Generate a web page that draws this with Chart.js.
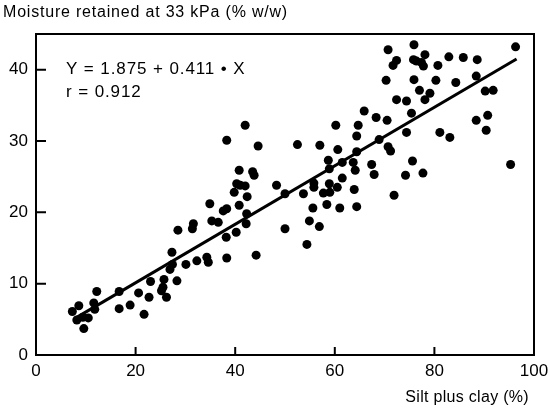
<!DOCTYPE html>
<html>
<head>
<meta charset="utf-8">
<script src="https://cdn.jsdelivr.net/npm/chart.js@4"></script>
<style>
  html, body { margin: 0; padding: 0; background: #fff; }
  #wrap { width: 550px; height: 414px; }
</style>
</head>
<body>
<div id="wrap"><canvas id="chart" width="550" height="414"></canvas></div>
<script>
// soil moisture vs silt+clay
const siltClay = [
  7.3, 8.6, 8.2, 9.4, 9.6, 10.5, 12.2, 11.8, 11.6, 16.7, 16.7, 18.9, 20.6, 21.7, 22.7, 23.0,
  25.7, 25.5, 25.2, 26.2, 27.3, 26.9, 27.4, 28.3, 28.5, 30.1, 31.4, 31.6, 32.3, 34.3, 34.6,
  34.9, 35.3, 36.6, 37.6, 38.3, 38.2, 38.3, 39.8, 40.3, 41.0, 42.0, 40.8, 42.4, 42.3, 42.2,
  40.2, 44.2, 48.3, 50.0, 38.3, 42.0, 44.6, 40.8, 43.5, 43.8, 52.5, 57.0, 53.7, 54.9, 54.4,
  79.1, 78.1, 72.4, 74.4, 65.9, 68.3, 70.5, 75.4, 60.2, 64.7, 64.4, 74.4, 60.6, 68.9, 70.7,
  71.2, 64.4, 58.7, 58.9, 61.5, 63.7, 64.1, 67.4, 67.9, 75.6, 74.2, 77.7, 55.8, 55.8, 61.5,
  58.9, 60.5, 57.7, 59.0, 63.9, 55.6, 58.4, 61.0, 64.4, 71.9, 56.9, 75.9, 70.7, 72.4, 71.7,
  75.8, 76.4, 77.4, 78.1, 77.8, 80.7, 82.9, 85.8, 88.6, 96.3, 70.3, 75.9, 80.3, 84.3, 88.4,
  77.0, 90.2, 91.8, 81.1, 83.1, 88.4, 90.7, 90.4, 95.3, 50.0
];
const moisture = [
  6.1, 6.9, 4.9, 5.3, 3.7, 5.2, 8.9, 6.4, 7.3, 6.5, 8.9, 7.0, 8.7, 5.7, 8.1, 10.3,
  10.6, 9.5, 9.0, 8.1, 14.4, 12.0, 12.7, 10.4, 17.5, 12.7, 17.7, 18.4, 13.2, 13.7, 13.0,
  21.2, 18.8, 18.6, 20.2, 20.5, 16.5, 13.6, 22.8, 24.0, 23.8, 23.7, 21.0, 22.2, 19.8, 18.4,
  17.2, 14.0, 23.8, 17.7, 30.1, 32.2, 29.3, 25.9, 25.7, 25.2, 29.5, 29.4, 22.6, 18.8, 15.5,
  36.7, 35.8, 35.8, 35.6, 34.2, 33.3, 32.9, 33.9, 32.2, 32.2, 30.7, 31.2, 28.8, 30.2, 29.2,
  28.6, 28.5, 27.3, 26.1, 27.0, 27.0, 25.9, 26.7, 25.3, 27.2, 25.2, 25.5, 24.1, 23.5, 24.8,
  24.0, 23.5, 22.7, 22.8, 23.2, 20.6, 21.1, 20.6, 20.8, 22.4, 18.0, 43.5, 42.8, 41.3, 40.6,
  41.4, 41.2, 41.0, 42.1, 40.5, 40.6, 41.8, 41.7, 41.4, 43.2, 38.5, 38.6, 38.5, 38.2, 39.1,
  37.1, 37.0, 37.1, 31.2, 30.5, 32.9, 33.6, 31.5, 26.7, 22.6
];

// regression line ends, as drawn
const fitX = [8, 96.5];
const fitY = [5.2, 41.5];

const xTicks = [0, 20, 40, 60, 80, 100];
const yTicks = [0, 10, 20, 30, 40];

const yTitle = 'Moisture retained at 33 kPa (% w/w)';
const xTitle = 'Silt plus clay (%)';
const eqnLines = ['Y = 1.875 + 0.411 \u2022 X', 'r = 0.912'];

const FONT = '"Liberation Sans", Arial, Helvetica, sans-serif';

// frame, inward ticks and the free-standing text
const framePlugin = {
  id: 'frame',
  afterDraw(chart) {
    const { ctx, chartArea: a, scales } = chart;
    ctx.save();
    ctx.strokeStyle = '#000';
    ctx.lineWidth = 2;
    ctx.strokeRect(a.left, a.top, a.right - a.left, a.bottom - a.top);

    ctx.beginPath();
    yTicks.forEach(v => {
      const y = scales.y.getPixelForValue(v);
      ctx.moveTo(a.left, y);
      ctx.lineTo(a.left + 10, y);
    });
    xTicks.forEach(v => {
      const x = scales.x.getPixelForValue(v);
      ctx.moveTo(x, a.bottom);
      ctx.lineTo(x, a.bottom - 8);
    });
    ctx.stroke();

    ctx.fillStyle = '#000';
    ctx.textBaseline = 'middle';
    ctx.textAlign = 'left';
    ctx.font = '16px ' + FONT;
    ctx.letterSpacing = '0.8px';
    ctx.fillText(yTitle, 3, 13);

    ctx.font = '17px ' + FONT;
    ctx.letterSpacing = '0.9px';
    ctx.fillText(eqnLines[0], 66, 69);
    ctx.fillText(eqnLines[1], 66, 92);

    ctx.font = '16px ' + FONT;
    ctx.letterSpacing = '0.3px';
    ctx.textAlign = 'right';
    ctx.fillText(xTitle, 529, 398);
    ctx.restore();
  }
};

const points = siltClay.map((x, i) => ({ x: x, y: moisture[i] }));
const fitLine = fitX.map((x, i) => ({ x: x, y: fitY[i] }));

new Chart(document.getElementById('chart'), {
  type: 'scatter',
  data: {
    datasets: [
      {
        data: points,
        pointRadius: 4.5,
        pointHoverRadius: 4.5,
        backgroundColor: '#000',
        borderWidth: 0
      },
      {
        type: 'line',
        data: fitLine,
        borderColor: '#000',
        borderWidth: 3,
        pointRadius: 0,
        fill: false
      }
    ]
  },
  options: {
    responsive: false,
    animation: false,
    layout: { padding: { top: 34, right: 16, bottom: 0, left: 0 } },
    plugins: {
      legend: { display: false },
      tooltip: { enabled: false }
    },
    scales: {
      x: {
        type: 'linear',
        min: 0,
        max: 100,
        afterFit(scale) {
          scale.height = 59;
          scale.paddingLeft = 0;
          scale.paddingRight = 0;
        },
        afterBuildTicks(scale) { scale.ticks = xTicks.map(v => ({ value: v })); },
        grid: { display: false, drawTicks: false },
        border: { display: false },
        ticks: { color: '#000', padding: 6, font: { family: FONT, size: 17 } }
      },
      y: {
        type: 'linear',
        min: 0,
        max: 45,
        afterFit(scale) {
          scale.width = 36;
          scale.paddingTop = 0;
          scale.paddingBottom = 0;
        },
        afterBuildTicks(scale) { scale.ticks = yTicks.map(v => ({ value: v })); },
        grid: { display: false, drawTicks: false },
        border: { display: false },
        ticks: { color: '#000', padding: 8, font: { family: FONT, size: 17 } }
      }
    }
  },
  plugins: [framePlugin]
});
</script>
</body>
</html>
